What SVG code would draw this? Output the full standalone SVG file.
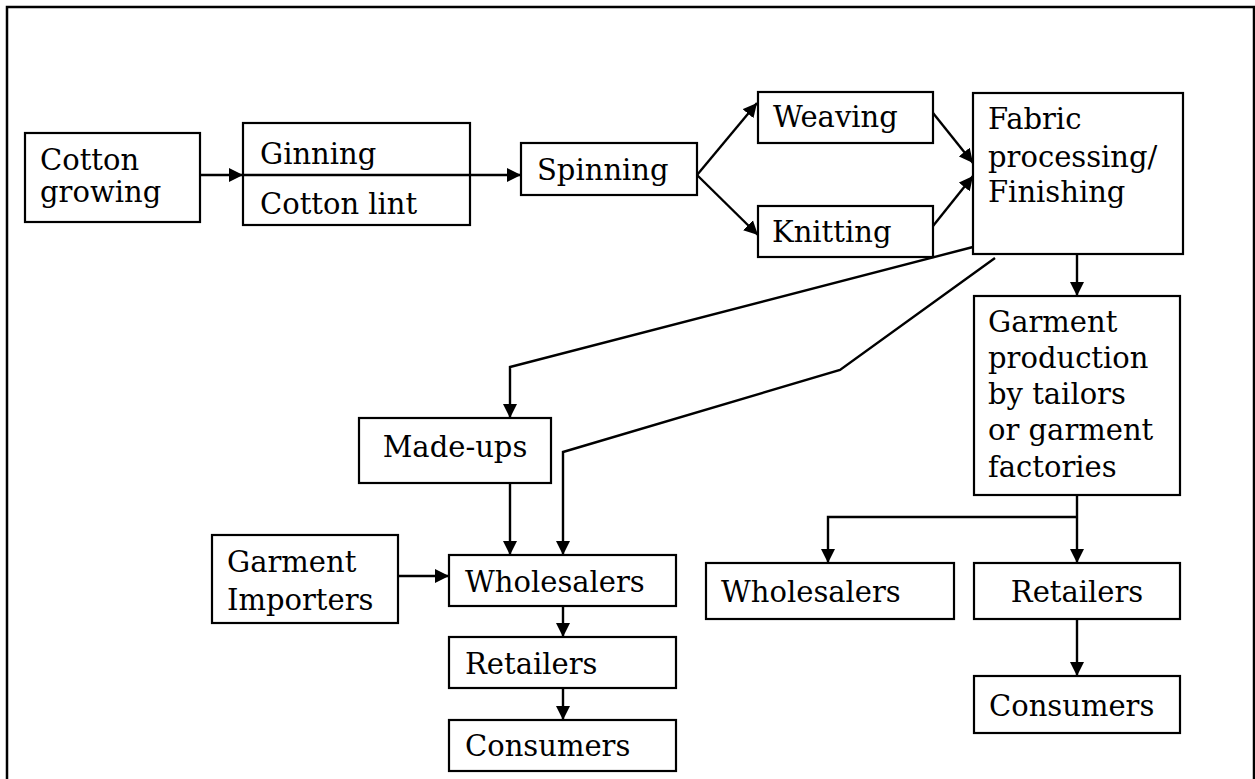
<svg xmlns="http://www.w3.org/2000/svg" width="1255" height="779" viewBox="0 0 1255 779">
<style>
.box{fill:#fff;stroke:#000;stroke-width:2.2}
.t{font-family:"DejaVu Serif","Liberation Serif",serif;font-size:29px;fill:#000}
.c{text-anchor:middle}
.ln{fill:none;stroke:#000;stroke-width:2.4}
.ar{marker-end:url(#ah)}
</style>
<defs>
<marker id="ah" markerWidth="15" markerHeight="15" refX="14" refY="7.5" orient="auto" markerUnits="userSpaceOnUse">
<path d="M0,0.5 L14,7.5 L0,14.5 z" fill="#000"/>
</marker>
</defs>
<rect x="7" y="7" width="1247" height="800" fill="#fff" stroke="#000" stroke-width="2.5"/>

<g id="connectors">
<path class="ln ar" d="M200,175 L243,175"/>
<path class="ln ar" d="M243,175 L521,175"/>
<path class="ln ar" d="M697,175 L757,103"/>
<path class="ln ar" d="M697,175 L758,235"/>
<path class="ln ar" d="M933,113 L973,163"/>
<path class="ln ar" d="M933,226 L973,176"/>
<path class="ln ar" d="M1077,254 L1077,296"/>
<path class="ln ar" d="M973,247 L510,367 L510,418"/>
<path class="ln ar" d="M995,258 L840,370 L563,452 L563,555"/>
<path class="ln ar" d="M510,483 L510,555"/>
<path class="ln ar" d="M398,576 L449,576"/>
<path class="ln ar" d="M563,606 L563,637"/>
<path class="ln ar" d="M563,688 L563,720"/>
<path class="ln ar" d="M1077,495 L1077,563"/>
<path class="ln ar" d="M1077,517 L828,517 L828,563"/>
<path class="ln ar" d="M1077,619 L1077,676"/>
</g>

<g id="cotton-growing">
<rect class="box" x="25" y="133" width="175" height="89"/>
<text class="t" x="40" y="170">Cotton</text>
<text class="t" x="40" y="202">growing</text>
</g>
<g id="ginning">
<rect class="box" x="243" y="123" width="227" height="102"/>
<text class="t" x="260" y="164">Ginning</text>
<text class="t" x="260" y="214">Cotton lint</text>
</g>
<path class="ln" d="M243,175 L470,175"/>
<g id="spinning">
<rect class="box" x="521" y="143" width="176" height="52"/>
<text class="t" x="537" y="180">Spinning</text>
</g>
<g id="weaving">
<rect class="box" x="758" y="92" width="175" height="51"/>
<text class="t" x="773" y="127">Weaving</text>
</g>
<g id="knitting">
<rect class="box" x="758" y="206" width="175" height="51"/>
<text class="t" x="772" y="242">Knitting</text>
</g>
<g id="fabric-processing">
<rect class="box" x="973" y="93" width="210" height="161"/>
<text class="t" x="988" y="129">Fabric</text>
<text class="t" x="988" y="167">processing/</text>
<text class="t" x="988" y="202">Finishing</text>
</g>
<g id="garment-production">
<rect class="box" x="974" y="296" width="206" height="199"/>
<text class="t" x="988" y="332">Garment</text>
<text class="t" x="988" y="368">production</text>
<text class="t" x="988" y="404">by tailors</text>
<text class="t" x="988" y="440">or garment</text>
<text class="t" x="988" y="477">factories</text>
</g>
<g id="made-ups">
<rect class="box" x="359" y="418" width="192" height="65"/>
<text class="t c" x="455" y="457">Made-ups</text>
</g>
<g id="garment-importers">
<rect class="box" x="212" y="535" width="186" height="88"/>
<text class="t" x="227" y="572">Garment</text>
<text class="t" x="227" y="610">Importers</text>
</g>
<g id="wholesalers-left">
<rect class="box" x="449" y="555" width="227" height="51"/>
<text class="t" x="465" y="592">Wholesalers</text>
</g>
<g id="retailers-left">
<rect class="box" x="449" y="637" width="227" height="51"/>
<text class="t" x="465" y="674">Retailers</text>
</g>
<g id="consumers-left">
<rect class="box" x="449" y="720" width="227" height="51"/>
<text class="t" x="465" y="756">Consumers</text>
</g>
<g id="wholesalers-right">
<rect class="box" x="706" y="563" width="248" height="56"/>
<text class="t" x="721" y="602">Wholesalers</text>
</g>
<g id="retailers-right">
<rect class="box" x="974" y="563" width="206" height="56"/>
<text class="t c" x="1077" y="602">Retailers</text>
</g>
<g id="consumers-right">
<rect class="box" x="974" y="676" width="206" height="57"/>
<text class="t" x="989" y="716">Consumers</text>
</g>
</svg>
